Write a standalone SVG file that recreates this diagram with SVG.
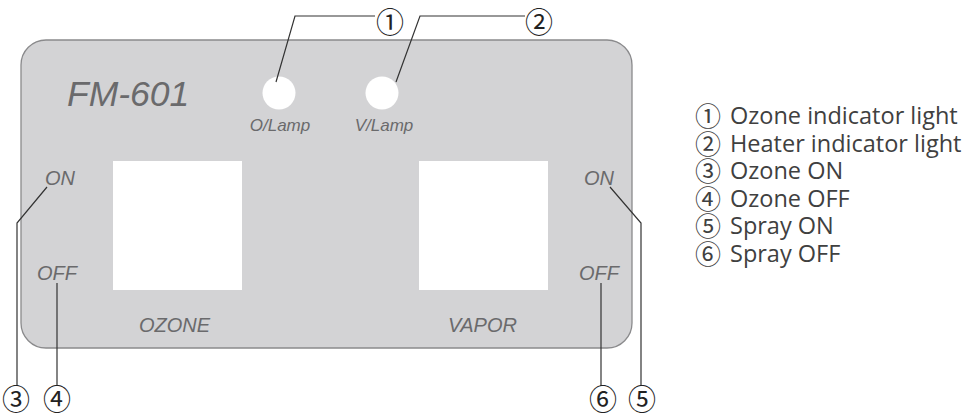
<svg xmlns="http://www.w3.org/2000/svg" width="975" height="418" viewBox="0 0 975 418">
<style>
.panel{fill:#d3d3d5;stroke:#8a8a8c;stroke-width:1.3}
.win{fill:#ffffff}
.lbl{font-family:"Liberation Sans",Arial,sans-serif;font-style:italic;fill:#6a6a6c}
.call{font-family:"Noto Sans CJK JP","DejaVu Sans",sans-serif;font-size:28px;fill:#222;text-anchor:middle}
.leg{font-family:"Open Sans","Noto Sans",sans-serif;font-size:23.5px;fill:#404040}
.legn{font-family:"Noto Sans CJK JP","DejaVu Sans",sans-serif;font-size:26px;fill:#404040;text-anchor:middle}
.ln{fill:none;stroke:#333;stroke-width:1.2}
</style>
<rect width="975" height="418" fill="#ffffff"/>
<g id="panel">
<rect class="panel" x="21" y="40" width="611" height="308" rx="25" ry="25"/>
<text class="lbl" x="67" y="106" font-size="35.5">FM-601</text>
</g>
<g id="olamp">
<circle cx="279" cy="93" r="16.5" fill="#ffffff"/>
<text class="lbl" x="280" y="131" font-size="17" text-anchor="middle">O/Lamp</text>
</g>
<g id="vlamp">
<circle cx="382" cy="93" r="16.5" fill="#ffffff"/>
<text class="lbl" x="384" y="131" font-size="17" text-anchor="middle">V/Lamp</text>
</g>
<g id="ozone">
<rect class="win" x="113" y="161" width="129" height="129"/>
<text class="lbl" x="45" y="185" font-size="20">ON</text>
<text class="lbl" x="37" y="280" font-size="20">OFF</text>
<text class="lbl" x="139" y="332" font-size="20">OZONE</text>
</g>
<g id="vapor">
<rect class="win" x="419" y="161" width="129" height="129"/>
<text class="lbl" x="584" y="185" font-size="20">ON</text>
<text class="lbl" x="579" y="280" font-size="20">OFF</text>
<text class="lbl" x="448" y="332" font-size="20">VAPOR</text>
</g>
<g id="connectors">
<polyline class="ln" points="276,82 295,16 375,16"/>
<polyline class="ln" points="396,82 420,16 525,16"/>
<polyline class="ln" points="47,187 17,223 17,386"/>
<polyline class="ln" points="57,283 57,386"/>
<polyline class="ln" points="610,187 641,223 641,386"/>
<polyline class="ln" points="601,283 601,386"/>
</g>
<g id="callouts">
<text class="call" x="390" y="33">①</text>
<text class="call" x="539" y="33">②</text>
<text class="call" x="16" y="409.5">③</text>
<text class="call" x="57" y="409.5">④</text>
<text class="call" x="642" y="409.5">⑤</text>
<text class="call" x="603" y="409.5">⑥</text>
</g>
<g id="legend">
<text class="legn" x="708" y="126">①</text><text class="leg" x="730" y="124">Ozone indicator light</text>
<text class="legn" x="708" y="153.5">②</text><text class="leg" x="730" y="151.5">Heater indicator light</text>
<text class="legn" x="708" y="181">③</text><text class="leg" x="730" y="179">Ozone ON</text>
<text class="legn" x="708" y="208.5">④</text><text class="leg" x="730" y="206.5">Ozone OFF</text>
<text class="legn" x="708" y="236">⑤</text><text class="leg" x="730" y="234">Spray ON</text>
<text class="legn" x="708" y="263.5">⑥</text><text class="leg" x="730" y="261.5">Spray OFF</text>
</g>
</svg>
